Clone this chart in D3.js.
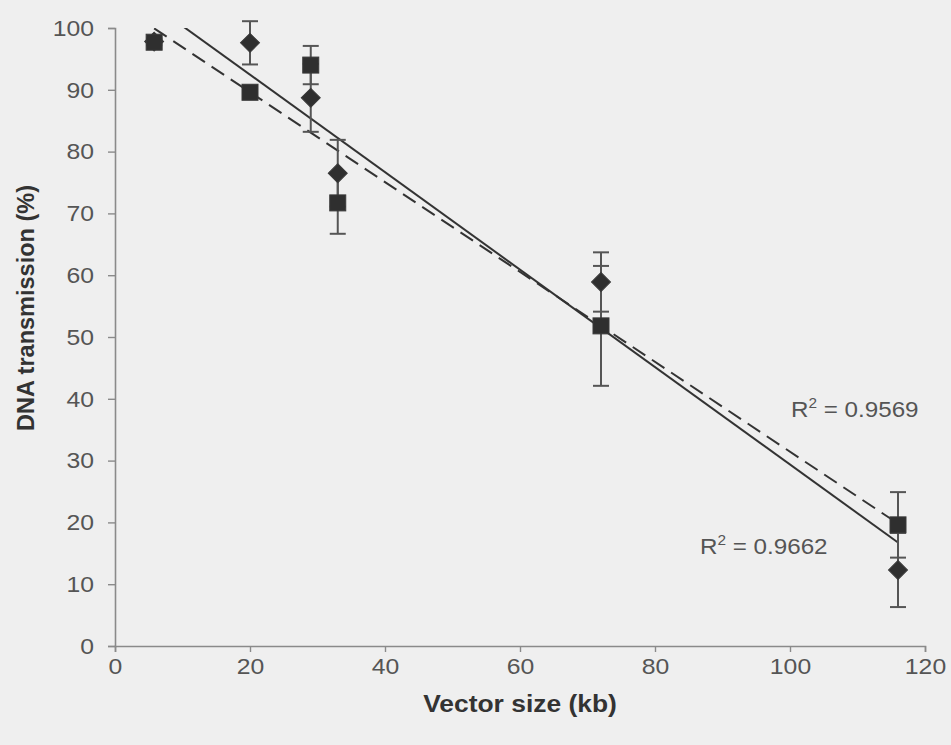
<!DOCTYPE html>
<html>
<head>
<meta charset="utf-8">
<script src="https://cdn.jsdelivr.net/npm/d3@7"></script>
<style>
  html, body { margin: 0; padding: 0; background: #efefef; }
  svg { display: block; }
  text { font-family: "Liberation Sans", Arial, sans-serif; }
</style>
</head>
<body>
<svg id="chart" width="951" height="745"></svg>
<script>
// ---- data ----
const vectorSizeKb = [5.8, 20, 29, 33, 72, 116];
const squareValues = [97.7, 89.6, 94.0, 71.7, 51.8, 19.6];
const squareErrors = [0.5, 1.0, 3.1, 5.0, 9.7, 5.3];
const diamondValues = [97.8, 97.6, 88.7, 76.5, 58.9, 12.3];
const diamondErrors = [0.5, 3.5, 5.5, 5.4, 4.8, 6.0];
const xTicks = [0, 20, 40, 60, 80, 100, 120];
const yTicks = [0, 10, 20, 30, 40, 50, 60, 70, 80, 90, 100];
const r2Labels = ["0.9569", "0.9662"];   // squares (dashed), diamonds (solid)
const xTitle = "Vector size (kb)";
const yTitle = "DNA transmission (%)";

(function () {
const svg = d3.select("#chart");
const pL = 115, pR = 925, pT = 28, pB = 646;
const x = d3.scaleLinear().domain([0, 120]).range([pL, pR]);
const y = d3.scaleLinear().domain([0, 100]).range([pB, pT]);

const axisColor = "#8a8a8a";
const tickText = "#555";

// clip for trendlines
svg.append("clipPath").attr("id", "plotclip")
  .append("rect").attr("x", pL).attr("y", pT).attr("width", pR - pL).attr("height", pB - pT);

// axes
const gy = svg.append("g").attr("transform", `translate(${pL},0)`)
  .call(d3.axisLeft(y).tickValues(yTicks).tickSize(7).tickPadding(12));
const gx = svg.append("g").attr("transform", `translate(0,${pB})`)
  .call(d3.axisBottom(x).tickValues(xTicks).tickSize(6).tickPadding(4));
[gx, gy].forEach(g => {
  g.select(".domain").attr("stroke", axisColor).attr("stroke-width", 1.6);
  g.selectAll(".tick line").attr("stroke", axisColor).attr("stroke-width", 1.4);
  g.selectAll(".tick text").attr("fill", tickText).attr("font-size", 22.5)
    .attr("font-family", "Liberation Sans, Arial, sans-serif");
});
gy.selectAll(".tick text").attr("transform", "scale(1.1,1)");
gx.selectAll(".tick text").attr("transform", "scale(1.1,1)").attr("dy", "0.78em");

// axis titles
svg.append("text")
  .attr("transform", `translate(${(pL + pR) / 2},712) scale(1.1,1)`)
  .attr("text-anchor", "middle").attr("font-weight", "bold").attr("font-size", 24)
  .attr("fill", "#333").text(xTitle);
svg.append("text")
  .attr("transform", `translate(34,308) rotate(-90)`)
  .attr("text-anchor", "middle").attr("font-weight", "bold").attr("font-size", 23.5)
  .attr("fill", "#333").text(yTitle);

// regression
function linReg(xs, ys) {
  const n = xs.length;
  const mx = d3.mean(xs), my = d3.mean(ys);
  let sxy = 0, sxx = 0;
  for (let i = 0; i < n; i++) { sxy += (xs[i] - mx) * (ys[i] - my); sxx += (xs[i] - mx) ** 2; }
  const b = sxy / sxx;
  return { a: my - b * mx, b };
}
const lineGen = d3.line().x(d => x(d[0])).y(d => y(d[1]));
function trend(values, dash) {
  const r = linReg(vectorSizeKb, values);
  const x0 = d3.min(vectorSizeKb), x1 = d3.max(vectorSizeKb);
  svg.append("path")
    .attr("clip-path", "url(#plotclip)")
    .attr("d", lineGen([[x0, r.a + r.b * x0], [x1, r.a + r.b * x1]]))
    .attr("fill", "none").attr("stroke", "#333").attr("stroke-width", 2)
    .attr("stroke-dasharray", dash);
}
trend(diamondValues, null);
trend(squareValues, "15,8");

// error bars
function errorBars(values, errs) {
  const g = svg.append("g").attr("stroke", "#555").attr("stroke-width", 2);
  vectorSizeKb.forEach((xv, i) => {
    const cx = x(xv), y1 = y(values[i] + errs[i]), y2 = y(values[i] - errs[i]);
    g.append("line").attr("x1", cx).attr("x2", cx).attr("y1", y1).attr("y2", y2);
    [y1, y2].forEach(yy => g.append("line").attr("x1", cx - 8).attr("x2", cx + 8).attr("y1", yy).attr("y2", yy));
  });
}
errorBars(diamondValues, diamondErrors);
errorBars(squareValues, squareErrors);

// markers
svg.append("g").selectAll("path").data(vectorSizeKb).join("path")
  .attr("d", d3.symbol().type(d3.symbolSquare).size(180)())
  .attr("transform", (d, i) => `translate(${x(d)},${y(diamondValues[i])}) rotate(45)`)
  .attr("fill", "#2f2f2f").attr("stroke", "#3a3a3a").attr("stroke-width", 1);
svg.append("g").selectAll("rect").data(vectorSizeKb).join("rect")
  .attr("x", d => x(d) - 8).attr("y", (d, i) => y(squareValues[i]) - 8)
  .attr("width", 16).attr("height", 16)
  .attr("fill", "#2f2f2f").attr("stroke", "#3a3a3a").attr("stroke-width", 1);

// R² labels
function r2(xp, yp, val) {
  const t = svg.append("text").attr("transform", `translate(${xp},${yp}) scale(1.1,1)`)
    .attr("font-size", 22).attr("fill", "#555");
  t.append("tspan").text("R");
  t.append("tspan").attr("font-size", 14).attr("dy", -9).text("2");
  t.append("tspan").attr("dy", 9).text(" = " + val);
}
r2(791, 417, r2Labels[0]);
r2(700, 554, r2Labels[1]);
})();
</script>
</body>
</html>
